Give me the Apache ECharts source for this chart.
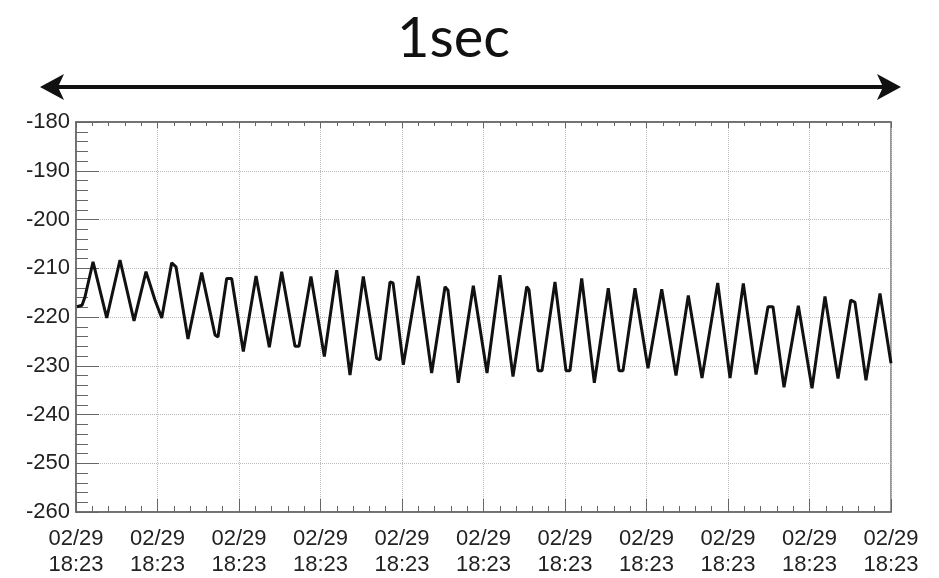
<!DOCTYPE html>
<html>
<head>
<meta charset="utf-8">
<script src="https://cdn.jsdelivr.net/npm/echarts@6/dist/echarts.min.js"></script>
<style>
html,body{margin:0;padding:0;background:#fff}
#main{width:939px;height:578px}
</style>
</head>
<body>
<div id="main"></div>
<script>
// time offset in ms (1 sec window), signal value
let time_ms=[1.2,7.4,11.0,20.9,37.7,54.0,71.2,85.9,96.9,105.2,117.4,122.7,137.4,154.2,170.6,174.2,184.9,191.0,205.3,220.9,
    237.2,252.4,268.7,273.6,288.3,304.7,319.9,336.2,352.5,368.9,373.0,385.3,389.0,401.6,420.0,436.4,452.8,456.4,469.1,487.5,
    504.3,520.2,536.2,553.0,555.8,566.9,571.8,587.7,601.2,606.1,620.5,636.0,653.1,666.3,671.2,685.9,701.8,718.7,736.2,751.3,
    768.1,787.4,802.5,818.8,834.4,849.1,855.2,868.7,886.3,903.1,919.0,935.0,950.6,955.8,969.3,986.5,1000]
let values=[-217.9,-217.6,-215.9,-208.7,-220.2,-208.3,-220.8,-210.7,-216.5,-220.2,-208.9,-209.7,-224.5,-210.9,-223.7,-224.1,-212.1,-212.1,-227.1,-211.6,
    -226.2,-210.7,-226.0,-226.0,-211.7,-228.1,-210.4,-231.9,-211.7,-228.5,-228.8,-212.8,-213.0,-229.8,-211.6,-231.5,-213.8,-214.5,-233.5,-213.6,
    -231.5,-211.4,-232.2,-213.8,-214.4,-231.0,-231.0,-212.8,-231.0,-231.0,-212.1,-233.5,-214.1,-231.0,-231.0,-214.1,-230.5,-214.3,-232.0,-215.6,
    -232.5,-213.0,-232.5,-213.1,-231.8,-217.9,-217.9,-234.4,-217.7,-234.6,-215.8,-232.6,-216.5,-217.0,-233.0,-215.2,-229.5]
let x_ticks=["02/29\n18:23"]
let y_min=-260, y_max=-180

let seriesData=time_ms.map((t,i)=>[t,values[i]])

let chart=echarts.init(document.getElementById('main'))
let axisColor='#666'
chart.setOption({
    animation:false,
    grid:{left:76,right:48,top:122,bottom:66,show:true,borderColor:'#777',borderWidth:1.5},
    title:{
        text:'1sec',
        left:392,
        top:6,
        textStyle:{fontFamily:'Lato',fontWeight:'normal',fontSize:56,color:'#111'}
    },
    graphic:[
        {type:'line',shape:{x1:52,y1:87,x2:890,y2:87},style:{stroke:'#111',lineWidth:4}},
        {type:'polygon',shape:{points:[[40,87],[64,74],[58,87],[64,100]]},style:{fill:'#111'}},
        {type:'polygon',shape:{points:[[901,87],[877,74],[883,87],[877,100]]},style:{fill:'#111'}}
    ],
    xAxis:[{
        type:'value',min:0,max:1000,interval:100,
        axisLine:{show:true,lineStyle:{color:axisColor,width:1.5}},
        axisTick:{show:true,inside:true,length:13,lineStyle:{color:axisColor}},
        minorTick:{show:true,splitNumber:5,length:6,lineStyle:{color:axisColor}},
        splitLine:{show:true,lineStyle:{color:'#bbb',type:'dotted',width:1}},
        axisLabel:{
            formatter:()=>x_ticks[0],
            fontFamily:'Liberation Sans',fontSize:22,color:'#222',lineHeight:26,margin:14,
            showMinLabel:true,showMaxLabel:true
        }
    },{
        type:'value',position:'top',min:0,max:1000,interval:100,
        axisLine:{show:true,lineStyle:{color:axisColor,width:1.5}},
        axisTick:{show:true,inside:true,length:6,lineStyle:{color:axisColor}},
        minorTick:{show:true,splitNumber:5,length:4,lineStyle:{color:axisColor}},
        splitLine:{show:false},
        axisLabel:{show:false}
    }],
    yAxis:{
        type:'value',min:y_min,max:y_max,interval:10,
        axisLine:{show:true,lineStyle:{color:axisColor,width:1.5}},
        axisTick:{show:true,inside:true,length:23,lineStyle:{color:axisColor}},
        minorTick:{show:true,splitNumber:5,length:12,lineStyle:{color:axisColor}},
        splitLine:{show:true,lineStyle:{color:'#bbb',type:'dotted',width:1}},
        axisLabel:{fontFamily:'Liberation Sans',fontSize:22,color:'#222',margin:6}
    },
    series:[{
        type:'line',
        data:seriesData,
        symbol:'none',
        lineStyle:{color:'#111',width:3},
        z:5
    }]
})
</script>
</body>
</html>
